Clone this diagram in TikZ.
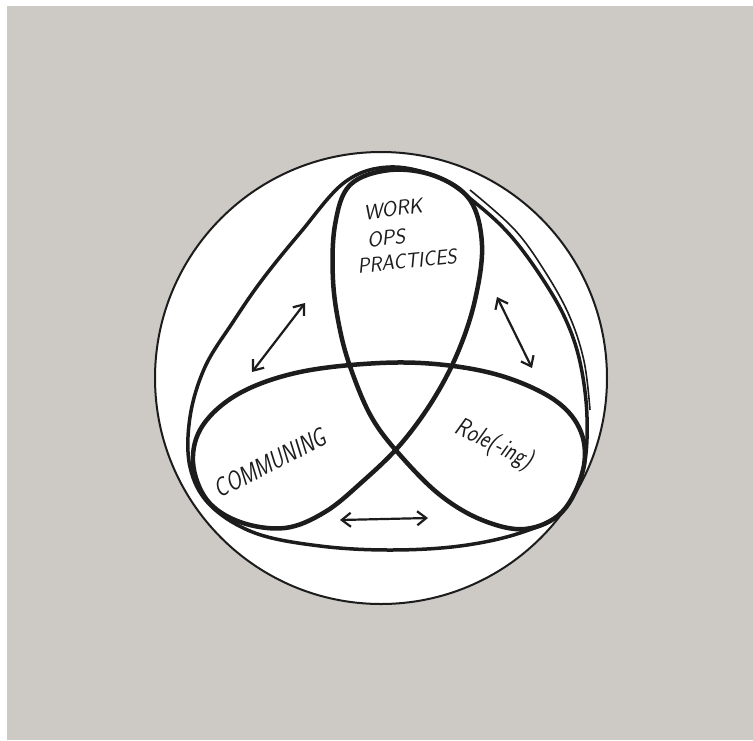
\documentclass[tikz,border=0pt]{standalone}
\usetikzlibrary{arrows.meta}
\definecolor{bggray}{RGB}{205,202,198}
\definecolor{ink}{RGB}{28,28,28}
\begin{document}
\begin{tikzpicture}[x=1pt,y=-1pt,
  knot/.style={draw=ink, line width=4.5pt, line join=round},
  rim/.style={draw=ink, line width=3.5pt, line join=round},
  twoway/.style={draw=ink, line width=2.2pt, {Straight Barb[length=9pt,width=14pt]}-{Straight Barb[length=9pt,width=14pt]}},
  hand/.style={font=\sffamily\itshape\fontsize{21}{21}\selectfont, text=ink, inner sep=0pt}]
\useasboundingbox (0,0) rectangle (753,740);
\fill[white] (0,0) rectangle (753,740);
\fill[bggray] (7,6) rectangle (753,740);
\node[circle, draw=ink, fill=white, line width=2pt, minimum size=452pt, inner sep=0pt] (disc) at (381,378) {};
% outer rounded triangle
\draw[rim] plot[smooth cycle, tension=0.6] coordinates {
 (390,167) (345,182) (300,233) (262,280) (233,322) (205,367) (190,417) (190,467) (210,505)
 (255,533) (320,546) (390,550) (460,546) (520,533) (562,512) (583,470) (587,417)
 (580,362) (565,318) (540,275) (510,235) (478,205) (440,178)};
\draw[draw=ink, line width=1.6pt] plot[smooth, tension=0.6] coordinates {
 (470,190) (514,229) (544,270) (569,315) (584,361) (590,410)};
% trefoil
\draw[knot] plot[smooth cycle, tension=0.6] coordinates {
 (390,170) (350,185) (335,225) (333,280) (340,330) (352,372) (372,418) (400,455)
 (440,495) (482,520) (525,529) (562,512) (583,470) (581,432) (556,401) (505,377)
 (445,365) (380,363) (300,372) (240,393) (203,425) (193,462) (207,500) (240,522)
 (285,528) (325,512) (362,482) (400,445) (433,400) (458,352) (475,300) (482,245)
 (470,200) (435,176)};
% arrows
\coordinate (la) at (252,372); \coordinate (lb) at (305,303);
\coordinate (ra) at (497,297); \coordinate (rb) at (532,368);
\coordinate (ba) at (340,520); \coordinate (bb) at (428,518);
\draw[twoway] (la) -- (lb);
\draw[twoway] (ra) -- (rb);
\draw[twoway] (ba) -- (bb);
% labels
\node[hand, rotate=8] (work) at (393,209) {WORK};
\node[hand, rotate=6] (ops) at (386,238) {OPS};
\node[hand, rotate=6, xscale=0.95] (prac) at (407,261) {PRACTICES};
\node[hand, rotate=27, yscale=1.25] (comm) at (270,463) {COMMUNING};
\node[hand, rotate=-26, yscale=1.25] (role) at (494,445) {Role(-ing)};
\end{tikzpicture}
\end{document}
